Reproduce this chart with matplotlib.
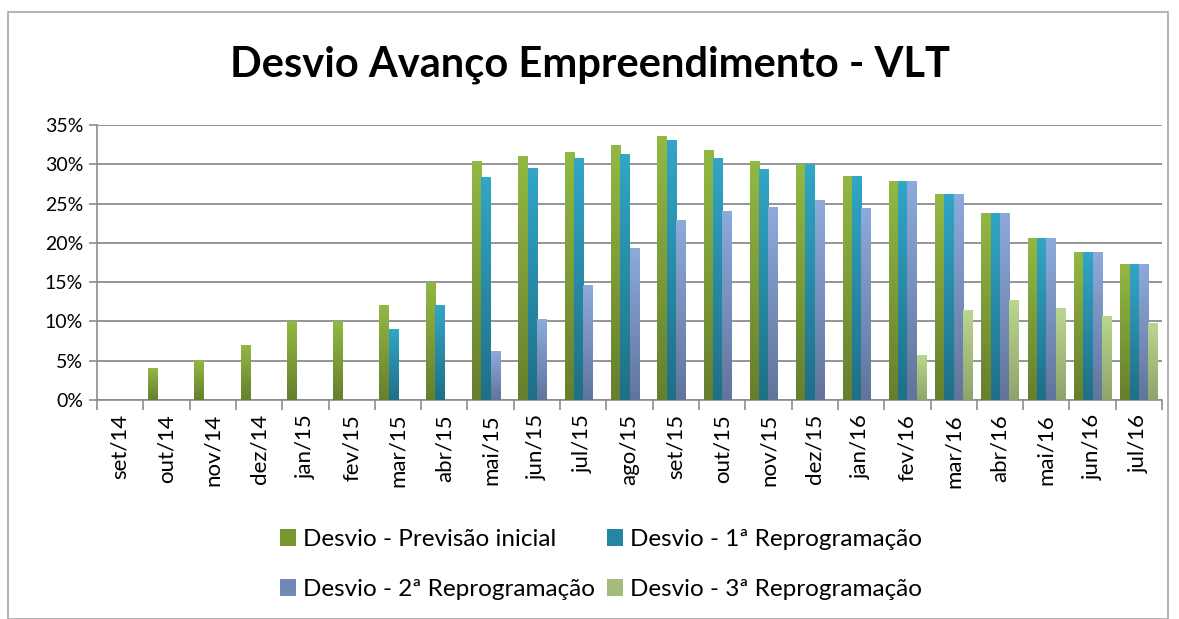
import numpy as np
import matplotlib
matplotlib.use('Agg')
import matplotlib.pyplot as plt
from matplotlib.colors import LinearSegmentedColormap
from matplotlib.patches import Rectangle, Patch

meses = ['set/14', 'out/14', 'nov/14', 'dez/14', 'jan/15', 'fev/15', 'mar/15',
         'abr/15', 'mai/15', 'jun/15', 'jul/15', 'ago/15', 'set/15', 'out/15',
         'nov/15', 'dez/15', 'jan/16', 'fev/16', 'mar/16', 'abr/16', 'mai/16',
         'jun/16', 'jul/16']

prev_inicial = [np.nan, 4.0, 5.0, 7.0, 10.0, 10.0, 12.0, 15.0, 30.4, 31.0, 31.5,
                32.4, 33.6, 31.7, 30.4, 30.0, 28.4, 27.8, 26.1, 23.7, 20.6, 18.8, 17.2]
reprog_1 = [np.nan, np.nan, np.nan, np.nan, np.nan, np.nan, 9.0, 12.0, 28.3, 29.5,
            30.8, 31.2, 33.0, 30.8, 29.4, 30.0, 28.4, 27.8, 26.1, 23.7, 20.6, 18.8, 17.2]
reprog_2 = [np.nan] * 8 + [6.2, 10.3, 14.6, 19.3, 22.9, 24.0, 24.5, 25.4, 24.4,
                           27.8, 26.1, 23.7, 20.6, 18.8, 17.2]
reprog_3 = [np.nan] * 17 + [5.7, 11.4, 12.7, 11.6, 10.6, 9.7]

# name, values, gradient top, gradient bottom, legend swatch
series = [
    ('Desvio - Previsão inicial', prev_inicial, '#92B843', '#667F2E', '#76982F'),
    ('Desvio - 1ª Reprogramação', reprog_1, '#31A6C7', '#1F6F87', '#2686A2'),
    ('Desvio - 2ª Reprogramação', reprog_2, '#8CAADB', '#61759C', '#7189B8'),
    ('Desvio - 3ª Reprogramação', reprog_3, '#BAD68E', '#8FA46B', '#A3BC7C'),
]

plt.rcParams['font.family'] = ['Lato', 'DejaVu Sans']

fig = plt.figure(figsize=(11.79, 6.19), dpi=100)
ax = fig.add_axes([0.0823, 0.3538, 0.9033, 0.4442])

# outer chart border
fig.patches.append(Rectangle((8 / 1179, 0), 1160 / 1179, 1 - 12 / 619,
                             transform=fig.transFigure, fill=False,
                             edgecolor='#A6A6A6', linewidth=1.2))

x = np.arange(len(meses))
w = 0.2
grad = np.linspace(1, 0, 64).reshape(-1, 1)
for i, (name, vals, top, bot, _) in enumerate(series):
    cmap = LinearSegmentedColormap.from_list(name, [bot, top])
    off = (i - 1.5) * w
    for xi, v in zip(x, vals):
        if np.isnan(v):
            continue
        x0 = xi + off - w / 2
        ax.imshow(grad, extent=[x0, x0 + w, 0, v], aspect='auto', cmap=cmap,
                  vmin=0, vmax=1, zorder=3, interpolation='bilinear')

ax.set_xlim(-0.5, len(meses) - 0.5)
ax.set_ylim(0, 35)
ax.set_yticks(np.arange(0, 36, 5))
ax.set_yticklabels([f'{t}%' for t in range(0, 36, 5)], fontsize=14)
ax.grid(axis='y', color='#8C8C8C', linewidth=1.3, zorder=0)
ax.set_axisbelow(True)

ax.set_xticks(x)
ax.set_xticklabels(meses, rotation=90, fontsize=16)
ax.set_xticks(np.arange(-0.5, len(meses), 1), minor=True)
ax.tick_params(axis='x', which='major', length=0, pad=10)
ax.tick_params(axis='x', which='minor', length=7, color='#8C8C8C', width=1.2)
ax.tick_params(axis='y', length=6, color='#8C8C8C', width=1.2, pad=4)

for s in ['top', 'right']:
    ax.spines[s].set_visible(False)
for s in ['left', 'bottom']:
    ax.spines[s].set_color('#8C8C8C')
    ax.spines[s].set_linewidth(1.2)

fig.text(0.5, 0.895, 'Desvio Avanço Empreendimento - VLT', ha='center',
         va='center', fontsize=30, fontweight='bold')

# matplotlib fills legend columns first -> reorder so rows read 1,2 / 3,4
handles = [Patch(facecolor=s[4], label=s[0]) for s in series]
handles = [handles[0], handles[2], handles[1], handles[3]]
fig.legend(handles=handles, loc='center', bbox_to_anchor=(0.51, 0.088), ncol=2,
           frameon=False, fontsize=17.5, handlelength=0.65, handleheight=0.65,
           handletextpad=0.3, columnspacing=0.5, labelspacing=1.2)

fig.savefig('out.png', dpi=100)
